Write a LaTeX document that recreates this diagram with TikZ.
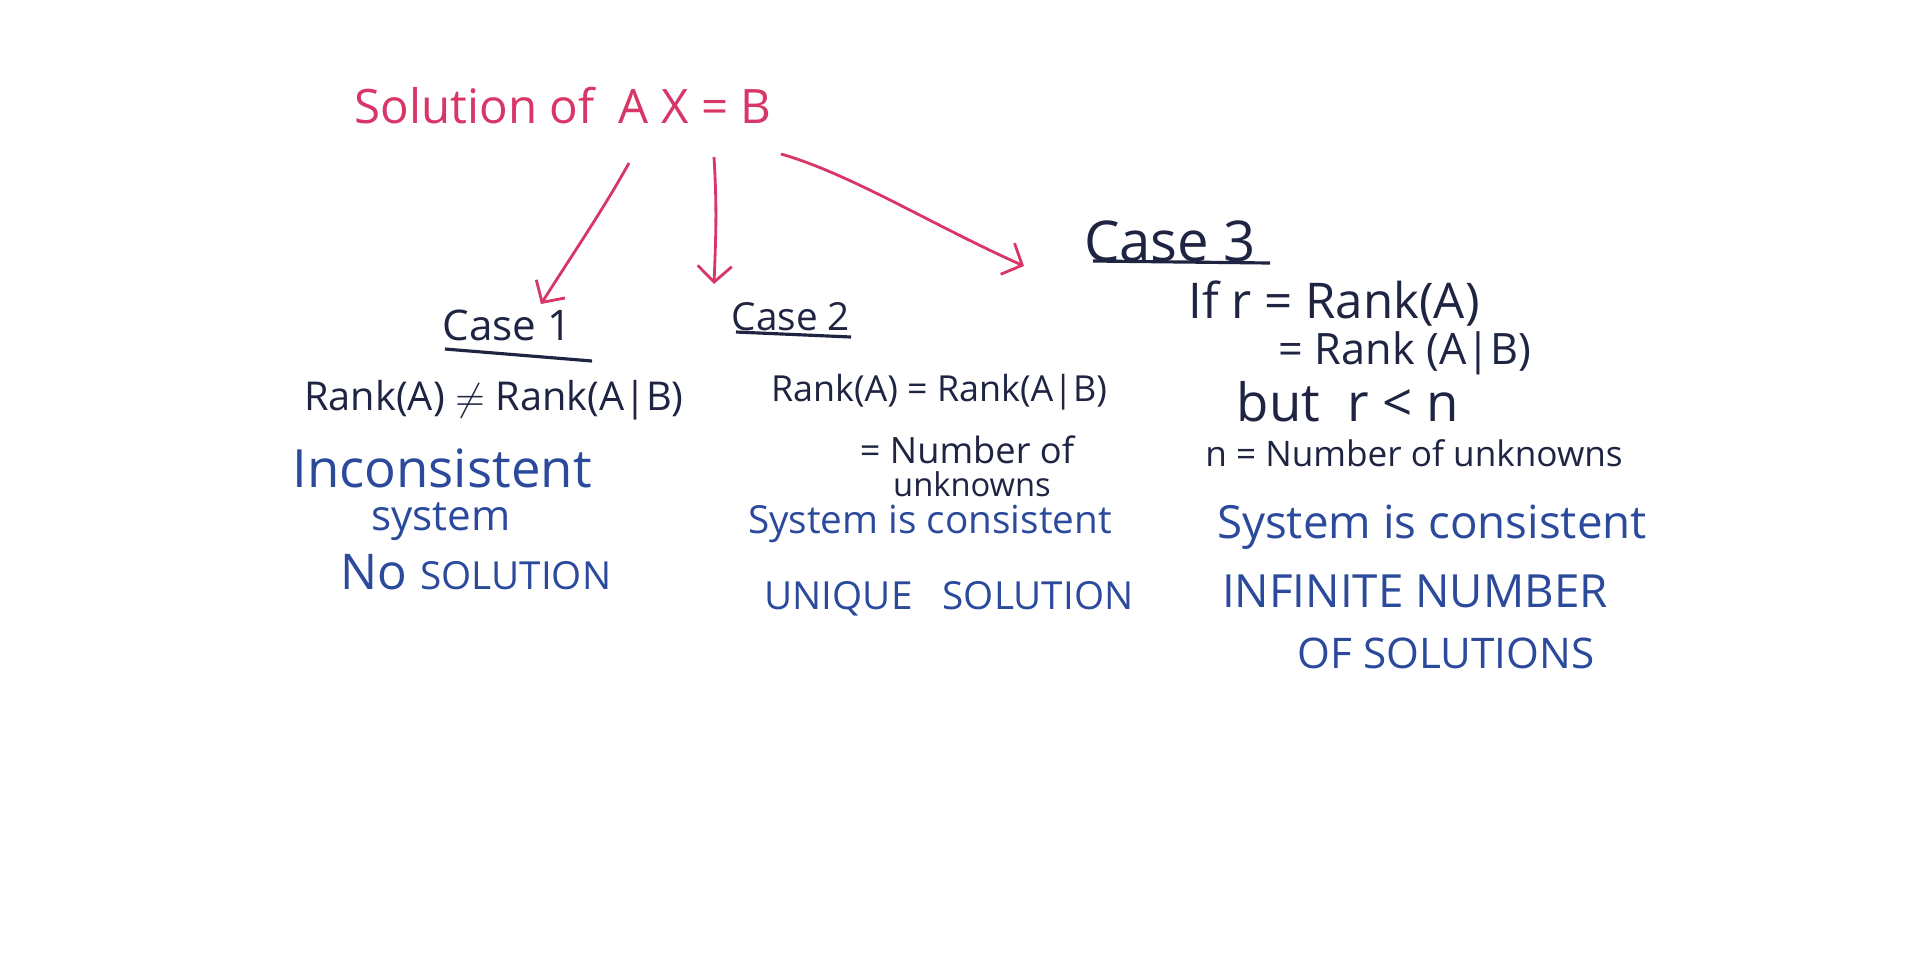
\documentclass[tikz,border=0pt]{standalone}
\usepackage{fontspec}
\setmainfont{Open Sans}
\usetikzlibrary{
  positioning,
  arrows.meta,
  calc
}
\definecolor{heading}{HTML}{D93668}
\definecolor{ink}{HTML}{1F2442}
\definecolor{pen}{HTML}{2B4A9C}

\begin{document}
\begin{tikzpicture}[
  x=0.01cm, y=-0.01cm,
  title/.style={text=heading, inner sep=0pt, font=\fontsize{13.5}{16}\selectfont},
  casehead/.style={text=ink, inner sep=0pt},
  rel/.style={text=ink, inner sep=0pt},
  verdict/.style={text=pen, inner sep=0pt},
  arr/.style={heading, line width=0.8pt, -{Straight Barb[length=1.6mm, width=3.4mm]}},
  uline/.style={ink, line width=0.9pt}
]
  \useasboundingbox[fill=white] (0,0) rectangle (1920,966);

  % Heading
  \node[title] (title) at (563,106) {Solution of\ \ A X = B};

  % Cases
  \node[casehead, font=\fontsize{12}{14}\selectfont] (case1) at (507,325) {Case 1};
  \node[casehead, font=\fontsize{11}{13}\selectfont] (case2) at (791,317) {Case 2};
  \node[casehead, font=\fontsize{16}{19}\selectfont] (case3) at (1170,241) {Case 3};

  \draw[uline] ([shift={(-62,24)}]case1.center) -- ([shift={(85,36)}]case1.center);
  \draw[uline] ([shift={(-55,15)}]case2.center) -- ([shift={(60,20)}]case2.center);
  \draw[uline] ([shift={(-77,20)}]case3.center) -- ([shift={(100,22)}]case3.center);

  \draw[arr] ([shift={(66,57)}]title.center) .. controls +(-25,45) and +(35,-55) .. ([shift={(34,-21)}]case1.center);
  \draw[arr] ([shift={(151,51)}]title.center) .. controls +(3,50) and +(2,-50) .. ([shift={(-77,-33)}]case2.center);
  \draw[arr] ([shift={(218,48)}]title.center) .. controls +(70,20) and +(-90,-40) .. ([shift={(-146,25)}]case3.center);

  % Case 1
  \node[rel, font=\fontsize{11.3}{14}\selectfont] (c1rank) at (494,400) {Rank(A) $\neq$ Rank(A|B)};
  \node[verdict, font=\fontsize{15}{18}\selectfont] (c1incons) at (442,468) {Inconsistent};
  \node[verdict, font=\fontsize{12}{14}\selectfont] (c1system) at (441,522) {system};
  \node[verdict, font=\fontsize{14}{16}\selectfont] (c1none) at (476,572) {No {\fontsize{11}{13}\selectfont SOLUTION}};

  % Case 2
  \node[rel, font=\fontsize{10.2}{12}\selectfont] (c2rank) at (939,392) {Rank(A) = Rank(A|B)};
  \node[rel, font=\fontsize{10.3}{12}\selectfont] (c2num) at (967,450) {= Number of};
  \node[rel, font=\fontsize{9.3}{11}\selectfont] (c2unk) at (972,484) {unknowns};
  \node[verdict, font=\fontsize{11}{13}\selectfont] (c2cons) at (930,524) {System is consistent};
  \node[verdict, font=\fontsize{11}{13}\selectfont] (c2uniq) at (949,599) {UNIQUE\ \ \ SOLUTION};

  % Case 3
  \node[rel, font=\fontsize{14}{16}\selectfont] (c3if) at (1334,304) {If r = Rank(A)};
  \node[rel, font=\fontsize{12.3}{15}\selectfont] (c3eq) at (1405,353) {= Rank (A|B)};
  \node[rel, font=\fontsize{15}{18}\selectfont] (c3but) at (1348,402) {but\ \ r < n};
  \node[rel, font=\fontsize{10}{12}\selectfont] (c3n) at (1414,453) {n = Number of unknowns};
  \node[verdict, font=\fontsize{13}{15}\selectfont] (c3cons) at (1432,527) {System is consistent};
  \node[verdict, font=\fontsize{13}{15}\selectfont] (c3inf) at (1415,591) {INFINITE NUMBER};
  \node[verdict, font=\fontsize{12}{14}\selectfont] (c3of) at (1446,653) {OF SOLUTIONS};
\end{tikzpicture}
\end{document}
